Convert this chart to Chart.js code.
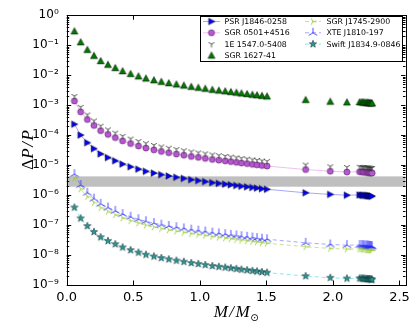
<!DOCTYPE html>
<html>
<head>
<meta charset="utf-8">
<script src="https://cdn.jsdelivr.net/npm/chart.js@4.4.1/dist/chart.umd.min.js"></script>
<style>
  html, body { margin: 0; padding: 0; background: #fff; }
  #wrap { width: 415px; height: 329px; }
</style>
</head>
<body>
<div id="wrap"><canvas id="chart" width="415" height="329"></canvas></div>
<script>
// stellar mass M/Msun of each model (shared by every source)
const massValues = [0.058, 0.105, 0.155, 0.205, 0.255, 0.31, 0.365, 0.42, 0.48, 0.539,
  0.595, 0.655, 0.711, 0.767, 0.824, 0.88, 0.936, 0.989, 1.041, 1.094,
  1.143, 1.191, 1.233, 1.275, 1.313, 1.355, 1.395, 1.43, 1.467, 1.505,
  1.795, 1.98, 2.105,
  2.2, 2.215, 2.225, 2.235, 2.245, 2.255, 2.262, 2.27, 2.276, 2.282, 2.288, 2.294];

const psrValues = [2.31e-4, 1.00e-4, 5.57e-5, 3.54e-5, 2.36e-5, 1.78e-5, 1.39e-5, 1.08e-5, 8.79e-6, 7.30e-6,
  6.20e-6, 5.40e-6, 4.80e-6, 4.33e-6, 3.92e-6, 3.59e-6, 3.27e-6, 3.04e-6, 2.82e-6, 2.60e-6,
  2.45e-6, 2.31e-6, 2.20e-6, 2.08e-6, 1.96e-6, 1.88e-6, 1.78e-6, 1.71e-6, 1.63e-6, 1.56e-6,
  1.19e-6, 1.05e-6, 9.9e-7,
  1.006e-6, 9.98e-7, 9.89e-7, 9.81e-7, 9.73e-7, 9.64e-7, 9.56e-7, 9.48e-7, 9.39e-7, 9.31e-7, 9.22e-7, 9.14e-7];

const sgr0501Values = [1.38e-3, 5.97e-4, 3.32e-4, 2.11e-4, 1.41e-4, 1.06e-4, 8.26e-5, 6.44e-5, 5.24e-5, 4.35e-5,
  3.70e-5, 3.22e-5, 2.86e-5, 2.58e-5, 2.34e-5, 2.14e-5, 1.95e-5, 1.81e-5, 1.68e-5, 1.55e-5,
  1.46e-5, 1.38e-5, 1.31e-5, 1.24e-5, 1.17e-5, 1.12e-5, 1.06e-5, 1.02e-5, 9.7e-6, 9.3e-6,
  7.1e-6, 6.24e-6, 5.9e-6,
  6.0e-6, 5.95e-6, 5.9e-6, 5.85e-6, 5.8e-6, 5.75e-6, 5.7e-6, 5.65e-6, 5.6e-6, 5.55e-6, 5.5e-6, 5.45e-6];

const e1547Values = [2.01e-3, 8.72e-4, 4.85e-4, 3.08e-4, 2.06e-4, 1.55e-4, 1.21e-4, 9.4e-5, 7.65e-5, 6.35e-5,
  5.4e-5, 4.7e-5, 4.18e-5, 3.77e-5, 3.42e-5, 3.12e-5, 2.85e-5, 2.64e-5, 2.45e-5, 2.26e-5,
  2.13e-5, 2.01e-5, 1.91e-5, 1.81e-5, 1.71e-5, 1.64e-5, 1.55e-5, 1.49e-5, 1.42e-5, 1.36e-5,
  1.04e-5, 9.1e-6, 8.6e-6,
  8.76e-6, 8.69e-6, 8.61e-6, 8.54e-6, 8.47e-6, 8.4e-6, 8.32e-6, 8.25e-6, 8.18e-6, 8.1e-6, 8.03e-6, 7.96e-6];

const sgr1627Values = [0.293, 0.127, 0.0704, 0.0447, 0.0299, 0.0225, 0.0175, 0.0137, 0.0111, 0.00922,
  0.00784, 0.00683, 0.00606, 0.00547, 0.00496, 0.00454, 0.00413, 0.00384, 0.00356, 0.00329,
  0.0031, 0.00293, 0.00278, 0.00263, 0.00248, 0.00237, 0.00225, 0.00216, 0.00206, 0.00197,
  0.00151, 0.00132, 0.00125,
  0.00127, 0.00126, 0.00125, 0.00124, 0.00123, 0.00122, 0.00121, 0.0012, 0.00119, 0.00118, 0.00117, 0.00116];

const sgr1745Values = [3.68e-6, 1.59e-6, 8.85e-7, 5.63e-7, 3.76e-7, 2.83e-7, 2.2e-7, 1.72e-7, 1.40e-7, 1.16e-7,
  9.86e-8, 8.58e-8, 7.62e-8, 6.88e-8, 6.24e-8, 5.71e-8, 5.2e-8, 4.83e-8, 4.48e-8, 4.13e-8,
  3.89e-8, 3.68e-8, 3.49e-8, 3.31e-8, 3.12e-8, 2.99e-8, 2.83e-8, 2.72e-8, 2.59e-8, 2.48e-8,
  1.89e-8, 1.66e-8, 1.57e-8,
  1.6e-8, 1.59e-8, 1.57e-8, 1.56e-8, 1.55e-8, 1.53e-8, 1.52e-8, 1.51e-8, 1.49e-8, 1.48e-8, 1.47e-8, 1.45e-8];

const xteValues = [4.98e-6, 2.16e-6, 1.20e-6, 7.62e-7, 5.09e-7, 3.83e-7, 2.98e-7, 2.33e-7, 1.89e-7, 1.57e-7,
  1.34e-7, 1.16e-7, 1.03e-7, 9.32e-8, 8.45e-8, 7.73e-8, 7.04e-8, 6.54e-8, 6.07e-8, 5.6e-8,
  5.27e-8, 4.98e-8, 4.73e-8, 4.48e-8, 4.23e-8, 4.05e-8, 3.83e-8, 3.68e-8, 3.5e-8, 3.36e-8,
  2.56e-8, 2.25e-8, 2.13e-8,
  2.17e-8, 2.15e-8, 2.13e-8, 2.11e-8, 2.09e-8, 2.08e-8, 2.06e-8, 2.04e-8, 2.02e-8, 2.0e-8, 1.99e-8, 1.97e-8];

const swiftValues = [3.85e-7, 1.67e-7, 9.26e-8, 5.89e-8, 3.93e-8, 2.96e-8, 2.30e-8, 1.80e-8, 1.46e-8, 1.21e-8,
  1.03e-8, 8.98e-9, 7.98e-9, 7.2e-9, 6.53e-9, 5.97e-9, 5.44e-9, 5.05e-9, 4.69e-9, 4.32e-9,
  4.07e-9, 3.85e-9, 3.65e-9, 3.46e-9, 3.26e-9, 3.12e-9, 2.96e-9, 2.85e-9, 2.71e-9, 2.59e-9,
  1.98e-9, 1.74e-9, 1.65e-9,
  1.67e-9, 1.66e-9, 1.65e-9, 1.63e-9, 1.62e-9, 1.6e-9, 1.59e-9, 1.58e-9, 1.56e-9, 1.55e-9, 1.53e-9, 1.52e-9];

const sourceNames = ['PSR J1846-0258', 'SGR 0501+4516', '1E 1547.0-5408', 'SGR 1627-41',
  'SGR J1745-2900', 'XTE J1810-197', 'Swift J1834.9-0846'];

// grey band of observed glitch sizes
const bandRange = [1.9e-6, 4.2e-6];

const xTicks = [0, 0.5, 1.0, 1.5, 2.0, 2.5];
const yDecades = [-9, -8, -7, -6, -5, -4, -3, -2, -1, 0];

// ---- marker glyphs (matplotlib style) ----
function marker(size, draw) {
  const c = document.createElement('canvas');
  c.width = size; c.height = size;
  const g = c.getContext('2d');
  g.translate(size / 2, size / 2);
  draw(g);
  return c;
}

function arms(g, angles, r, color, w) {
  g.strokeStyle = color; g.lineWidth = w; g.lineCap = 'butt';
  g.beginPath();
  angles.forEach(a => {
    g.moveTo(0, 0);
    g.lineTo(r * Math.cos(a), r * Math.sin(a));
  });
  g.stroke();
}

const deg = Math.PI / 180;
const markers = {
  triRight: marker(10, g => {
    g.beginPath(); g.moveTo(3.4, 0); g.lineTo(-2.8, -3.3); g.lineTo(-2.8, 3.3); g.closePath();
    g.fillStyle = '#0000ff'; g.fill(); g.lineWidth = 0.5; g.strokeStyle = '#000'; g.stroke();
  }),
  circle: marker(10, g => {
    g.beginPath(); g.arc(0, 0, 3.1, 0, 2 * Math.PI);
    g.fillStyle = '#ba55d3'; g.fill(); g.lineWidth = 0.5; g.strokeStyle = '#3a1a48'; g.stroke();
  }),
  triDown: marker(10, g => arms(g, [90 * deg, 210 * deg, 330 * deg], 3.4, '#333', 0.8)),
  triUpFilled: marker(10, g => {
    g.beginPath(); g.moveTo(0, -3.5); g.lineTo(3.5, 2.9); g.lineTo(-3.5, 2.9); g.closePath();
    g.fillStyle = '#007a00'; g.fill(); g.lineWidth = 0.5; g.strokeStyle = '#000'; g.stroke();
  }),
  triRightLines: marker(10, g => arms(g, [0, 120 * deg, 240 * deg], 3.8, '#9acd32', 0.9)),
  triUpLines: marker(12, g => arms(g, [270 * deg, 30 * deg, 150 * deg], 5, '#2525ff', 0.8)),
  star: marker(10, g => {
    g.beginPath();
    for (let i = 0; i < 10; i++) {
      const r = i % 2 === 0 ? 3.9 : 1.6;
      const a = -90 * deg + i * 36 * deg;
      g.lineTo(r * Math.cos(a), r * Math.sin(a));
    }
    g.closePath();
    g.fillStyle = '#2a9595'; g.fill(); g.lineWidth = 0.5; g.strokeStyle = '#0a2a2a'; g.stroke();
  })
};

function points(values) {
  return massValues.map((m, i) => ({ x: m, y: values[i] }));
}

const datasets = [
  { label: sourceNames[0], data: points(psrValues), pointStyle: markers.triRight,
    showLine: true, borderColor: 'rgba(60,60,255,0.45)', borderWidth: 1 },
  { label: sourceNames[1], data: points(sgr0501Values), pointStyle: markers.circle,
    showLine: true, borderColor: 'rgba(230,150,230,0.6)', borderWidth: 1 },
  { label: sourceNames[2], data: points(e1547Values), pointStyle: markers.triDown, showLine: false },
  { label: sourceNames[3], data: points(sgr1627Values), pointStyle: markers.triUpFilled, showLine: false },
  { label: sourceNames[4], data: points(sgr1745Values), pointStyle: markers.triRightLines,
    showLine: true, borderColor: 'rgba(154,205,50,0.55)', borderWidth: 1, borderDash: [4, 3] },
  { label: sourceNames[5], data: points(xteValues), pointStyle: markers.triUpLines,
    showLine: true, borderColor: 'rgba(60,60,255,0.45)', borderWidth: 1, borderDash: [4, 3] },
  { label: sourceNames[6], data: points(swiftValues), pointStyle: markers.star,
    showLine: true, borderColor: 'rgba(0,200,210,0.45)', borderWidth: 1, borderDash: [4, 3] }
];
datasets.forEach((d, i) => {
  d.pointRadius = 3;
  d.pointHoverRadius = 3;
  d.order = 10 - i;   // later series on top, like matplotlib
});

const supMap = { '-': '\u207B', '0': '\u2070', '1': '\u00B9', '2': '\u00B2', '3': '\u00B3',
  '4': '\u2074', '5': '\u2075', '6': '\u2076', '7': '\u2077', '8': '\u2078', '9': '\u2079' };
function powerLabel(v) {
  const e = Math.round(Math.log10(v));
  return '10' + String(e).split('').map(ch => supMap[ch]).join('');
}

// band, frame, inward ticks, axis titles and legend
const decorPlugin = {
  id: 'decor',
  beforeDatasetsDraw(chart) {
    const { ctx, chartArea: a, scales: { y } } = chart;
    const yTop = y.getPixelForValue(bandRange[1]);
    const yBot = y.getPixelForValue(bandRange[0]);
    ctx.save();
    ctx.fillStyle = '#bfbfbf';
    ctx.fillRect(a.left, yTop, a.right - a.left, yBot - yTop);
    ctx.restore();
  },
  afterDraw(chart) {
    const { ctx, chartArea: a, scales: { x, y } } = chart;
    ctx.save();
    ctx.strokeStyle = '#000';
    ctx.lineWidth = 1;

    // inward ticks
    ctx.beginPath();
    xTicks.forEach(v => {
      const px = Math.round(x.getPixelForValue(v)) + 0.5;
      ctx.moveTo(px, a.bottom); ctx.lineTo(px, a.bottom - 4.5);
      ctx.moveTo(px, a.top); ctx.lineTo(px, a.top + 4.5);
    });
    yDecades.forEach(e => {
      for (let k = 1; k <= 9; k++) {
        const v = k * Math.pow(10, e);
        if (v > 1) break;
        const len = k === 1 ? 4.5 : 2.5;
        const py = Math.round(y.getPixelForValue(v)) + 0.5;
        ctx.moveTo(a.left, py); ctx.lineTo(a.left + len, py);
        ctx.moveTo(a.right, py); ctx.lineTo(a.right - len, py);
      }
    });
    ctx.stroke();

    // frame
    ctx.strokeRect(Math.round(a.left) + 0.5, Math.round(a.top) + 0.5,
      Math.round(a.right - a.left), Math.round(a.bottom - a.top));

    // axis titles
    ctx.fillStyle = '#000';
    ctx.textBaseline = 'alphabetic';
    const it = 'italic 17px "Liberation Serif"';
    const up = '17px "Liberation Serif"';
    const xPieces = [
      { text: 'M', font: it, gap: 1.5 },
      { text: '/', font: it, gap: 1.5 },
      { text: 'M', font: it, gap: 0.5 },
      { text: '\u2299', font: '10px "DejaVu Sans"', dy: 4 }
    ];
    drawPieces(ctx, xPieces, (a.left + a.right) / 2, 317);

    ctx.save();
    ctx.translate(33, (a.top + a.bottom) / 2);
    ctx.rotate(-Math.PI / 2);
    const yPieces = [
      { text: '\u0394', font: up, gap: 0.5 },
      { text: 'P', font: it, gap: 1.5 },
      { text: '/', font: it, gap: 1.5 },
      { text: 'P', font: it }
    ];
    drawPieces(ctx, yPieces, 0, 0);
    ctx.restore();

    drawLegend(chart);
    ctx.restore();
  }
};

function drawPieces(ctx, pieces, cx, baseline) {
  let total = 0;
  pieces.forEach(p => {
    ctx.font = p.font;
    p.w = ctx.measureText(p.text).width;
    total += p.w + (p.gap || 0);
  });
  let px = cx - total / 2;
  pieces.forEach(p => {
    ctx.font = p.font;
    ctx.fillText(p.text, px, baseline + (p.dy || 0));
    px += p.w + (p.gap || 0);
  });
}

function drawLegend(chart) {
  const ctx = chart.ctx;
  const box = { left: 200.5, top: 16.5, width: 202, height: 45 };
  ctx.save();
  ctx.fillStyle = '#fff';
  ctx.fillRect(box.left, box.top, box.width, box.height);
  ctx.strokeStyle = '#000';
  ctx.lineWidth = 1;
  ctx.strokeRect(box.left, box.top, box.width, box.height);

  const cols = [{ x0: 203, x1: 220, text: 224.5 }, { x0: 305, x1: 321, text: 326.5 }];
  ctx.font = '7.8px "DejaVu Sans"';
  ctx.textBaseline = 'middle';
  chart.data.datasets.forEach((d, i) => {
    const col = cols[i < 4 ? 0 : 1];
    const row = i < 4 ? i : i - 4;
    const cy = 21.5 + row * 11.3;
    if (d.showLine) {
      ctx.save();
      ctx.strokeStyle = d.borderColor;
      ctx.lineWidth = d.borderWidth;
      ctx.setLineDash(d.borderDash || []);
      ctx.beginPath();
      ctx.moveTo(col.x0, cy); ctx.lineTo(col.x1, cy);
      ctx.stroke();
      ctx.restore();
    }
    const m = d.pointStyle;
    const mx = (col.x0 + col.x1) / 2;
    ctx.drawImage(m, mx - m.width / 2, cy - m.height / 2);
    ctx.fillStyle = '#000';
    ctx.fillText(d.label, col.text, cy + 0.5);
  });
  ctx.restore();
}

new Chart(document.getElementById('chart'), {
  type: 'scatter',
  data: { datasets },
  options: {
    responsive: false,
    animation: false,
    devicePixelRatio: 1,
    layout: { padding: { top: 12.3, right: 9.3, left: 0, bottom: 0 } },
    plugins: { legend: { display: false }, tooltip: { enabled: false } },
    scales: {
      x: {
        type: 'linear',
        min: 0,
        max: 2.545,
        grid: { display: false, drawTicks: false },
        border: { display: false },
        afterBuildTicks: s => { s.ticks = xTicks.map(v => ({ value: v })); },
        afterFit: s => { s.height = 44; },
        ticks: {
          autoSkip: false,
          maxRotation: 0,
          padding: 5,
          color: '#000',
          font: { family: 'DejaVu Sans', size: 13 },
          callback: v => Number(v).toFixed(1)
        }
      },
      y: {
        type: 'logarithmic',
        min: 1e-9,
        max: 1,
        grid: { display: false, drawTicks: false },
        border: { display: false },
        afterBuildTicks: s => { s.ticks = yDecades.map(e => ({ value: Math.pow(10, e) })); },
        afterFit: s => { s.width = 66.7; },
        ticks: {
          autoSkip: false,
          padding: 8,
          color: '#000',
          font: { family: 'DejaVu Sans', size: 12 },
          callback: v => powerLabel(v)
        }
      }
    }
  },
  plugins: [decorPlugin]
});
</script>
</body>
</html>
